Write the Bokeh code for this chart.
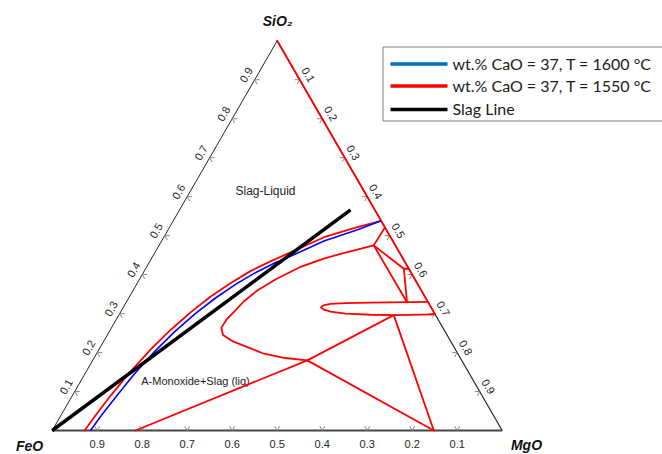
import numpy as np
from bokeh.plotting import figure
from bokeh.models import Range1d
from bokeh.core.properties import value
from bokeh.embed import file_html
from bokeh.resources import INLINE

# ---------------------------------------------------------------------------
# Phase-diagram data, as mass fractions (SiO2, MgO); FeO is the remainder.
# ---------------------------------------------------------------------------
# liquidus, wt.% CaO = 37, T = 1600 °C
liq1600_sio2 = [0.000, 0.040, 0.089, 0.145, 0.205, 0.255, 0.300, 0.340, 0.375, 0.405,
                0.431, 0.447, 0.486, 0.515, 0.538]
liq1600_mgo = [0.085, 0.090, 0.099, 0.110, 0.127, 0.146, 0.168, 0.193, 0.220, 0.249,
               0.281, 0.306, 0.361, 0.421, 0.462]

# liquidus, wt.% CaO = 37, T = 1550 °C
liq1550_sio2 = [0.000, 0.039, 0.089, 0.146, 0.208, 0.258, 0.303, 0.343, 0.378, 0.409,
                0.434, 0.457, 0.496, 0.522, 0.538]
liq1550_mgo = [0.072, 0.077, 0.085, 0.097, 0.115, 0.134, 0.156, 0.180, 0.207, 0.236,
               0.268, 0.301, 0.356, 0.417, 0.462]

# 1550 °C: closed field boundary (from the upper junction round to the triple point)
loop1550_sio2 = [0.475, 0.464, 0.453, 0.441, 0.420, 0.388, 0.359, 0.331, 0.305, 0.285,
                 0.264, 0.245, 0.228, 0.197, 0.186, 0.180]
loop1550_mgo = [0.477, 0.446, 0.414, 0.383, 0.342, 0.303, 0.276, 0.260, 0.252, 0.245,
                0.244, 0.257, 0.289, 0.372, 0.425, 0.477]

# 1550 °C: narrow lens-shaped field ending on the SiO2-MgO side
lens1550_sio2 = [0.330, 0.328, 0.327, 0.325, 0.321, 0.316, 0.311, 0.305, 0.300, 0.297, 0.296, 0.298]
lens1550_mgo = [0.670, 0.543, 0.488, 0.456, 0.442, 0.439, 0.447, 0.466, 0.502, 0.559, 0.611, 0.702]

# 1550 °C: straight boundaries, start/end compositions
seg1550_sio2_a = [0.521, 0.475, 0.415, 0.475, 0.415, 0.000, 0.180, 0.180, 0.296]
seg1550_mgo_a = [0.479, 0.477, 0.574, 0.477, 0.574, 0.185, 0.477, 0.477, 0.611]
seg1550_sio2_b = [0.475, 0.415, 0.415, 0.329, 0.329, 0.180, 0.296, 0.000, 0.000]
seg1550_mgo_b = [0.477, 0.574, 0.585, 0.624, 0.624, 0.477, 0.611, 0.848, 0.848]

# 1550 °C: liquid along the SiO2-MgO side
edge1550_sio2 = [1.000, 0.300]
edge1550_mgo = [0.000, 0.700]

# slag line from the FeO corner
slag_sio2 = [0.000, 0.566]
slag_mgo = [0.000, 0.380]

# axis ticks
tick_values = [0.1, 0.2, 0.3, 0.4, 0.5, 0.6, 0.7, 0.8, 0.9]
tick_labels = ["0.1", "0.2", "0.3", "0.4", "0.5", "0.6", "0.7", "0.8", "0.9"]

legend_labels = ["wt.% CaO = 37, T = 1600 °C", "wt.% CaO = 37, T = 1550 °C", "Slag Line"]

# ---------------------------------------------------------------------------
# Layout
# ---------------------------------------------------------------------------
W, H = 662, 454
SIDE = 450.0          # triangle side, px
OX, OY = 51.7, 24.0   # FeO corner (data units = px, y up)
S3 = np.sqrt(3) / 2

BLUE = "#0000ff"
RED = "#ff0000"
AXIS_GREY = "#888888"
LABEL = "#262626"


def tern(sio2, mgo):
    sio2 = np.asarray(sio2, dtype=float)
    mgo = np.asarray(mgo, dtype=float)
    return OX + SIDE * (mgo + sio2 / 2), OY + SIDE * sio2 * S3


def scr_y(py):
    return H - py


p = figure(width=W, height=H, x_range=Range1d(0, W), y_range=Range1d(0, H),
           toolbar_location=None, output_backend="svg", min_border=0)
p.axis.visible = False
p.grid.visible = False
p.outline_line_color = None
p.background_fill_color = "white"
p.border_fill_color = "white"

# triangle frame
fx, fy = tern([0, 1], [0, 0])
p.line(fx, fy, line_color="#222222", line_width=1)          # FeO - SiO2
fx, fy = tern([1, 0], [0, 1])
p.line(fx, fy, line_color="#222222", line_width=1.2)        # SiO2 - MgO
fx, fy = tern([0, 0], [0, 1])
p.line(fx, fy, line_color="#444444", line_width=2)          # FeO - MgO

# tick chevrons and labels
tv = np.array(tick_values)
arm = 5.0
lx, ly = tern(tv, np.zeros_like(tv))                 # FeO-SiO2 side, SiO2 value
rx, ry = tern(1 - tv, tv)                            # SiO2-MgO side, MgO value
bx, by = tern(np.zeros_like(tv), 1 - tv)             # FeO-MgO side, FeO value

for (x, y, dirs) in [
    (lx, ly, [(1, 0), (0.5, -S3)]),
    (rx, ry, [(-1, 0), (-0.5, -S3)]),
    (bx, by, [(-0.5, S3), (0.5, S3)]),
]:
    for dx, dy in dirs:
        p.segment(x, y, x + arm * dx, y + arm * dy, line_color=AXIS_GREY, line_width=1)

tick_font = dict(text_font=value("Liberation Sans"), text_font_size="11px",
                 text_color=LABEL, text_align="center", text_baseline="middle")
off = 10.0
p.text(lx - off * S3, ly + off * 0.5, text=tick_labels, angle=np.pi / 3, **tick_font)
p.text(rx + off * S3, ry + off * 0.5, text=tick_labels, angle=-np.pi / 3, **tick_font)
p.text(bx, by - 13, text=tick_labels, **tick_font)

# corner labels
corner_font = dict(text_font=value("Liberation Sans"), text_font_size="14px",
                   text_font_style="bold italic", text_color="#111111",
                   text_align="center", text_baseline="middle")
p.text([29], [scr_y(445)], text=["FeO"], **corner_font)
p.text([526], [scr_y(444)], text=["MgO"], **corner_font)
p.text([277], [scr_y(20)], text=["SiO₂"], **corner_font)

# phase-field labels
p.text([265], [scr_y(190)], text=["Slag-Liquid"], text_font=value("Liberation Sans"),
       text_font_size="12px", text_color="#222222", text_align="center", text_baseline="middle")
p.text([195], [scr_y(380)], text=["A-Monoxide+Slag (liq)"], text_font=value("Liberation Sans"),
       text_font_size="11px", text_color="#222222", text_align="center", text_baseline="middle")

# 1550 °C diagram
red = dict(line_color=RED, line_width=1.8, line_join="round", line_cap="round")
x, y = tern(edge1550_sio2, edge1550_mgo)
p.line(x, y, **red)
x, y = tern(liq1550_sio2, liq1550_mgo)
p.line(x, y, **red)
x, y = tern(loop1550_sio2, loop1550_mgo)
p.line(x, y, **red)
x, y = tern(lens1550_sio2, lens1550_mgo)
p.line(x, y, **red)
x0, y0 = tern(seg1550_sio2_a, seg1550_mgo_a)
x1, y1 = tern(seg1550_sio2_b, seg1550_mgo_b)
p.segment(x0, y0, x1, y1, **red)

# 1600 °C liquidus
x, y = tern(liq1600_sio2, liq1600_mgo)
p.line(x, y, line_color=BLUE, line_width=1.6, line_join="round")

# slag line
x, y = tern(slag_sio2, slag_mgo)
p.line(x, y, line_color="black", line_width=3.5)

# legend box
p.quad(left=[382.5], right=[664], top=[scr_y(46.5)], bottom=[scr_y(120.5)],
       fill_color="white", line_color="#7f7f7f", line_width=1)
leg_y = [scr_y(63.5), scr_y(85.5), scr_y(109)]
leg_colors = ["#0070c0", RED, "black"]
p.segment([390] * 3, leg_y, [447] * 3, leg_y, line_color=leg_colors, line_width=3.5)
p.text([452] * 3, [yy + 1 for yy in leg_y], text=legend_labels, text_font=value("Lato"),
       text_font_size="16px", text_color="#1a1a1a", text_align="left", text_baseline="middle")

open("out.html", "w").write(file_html(p, INLINE))
